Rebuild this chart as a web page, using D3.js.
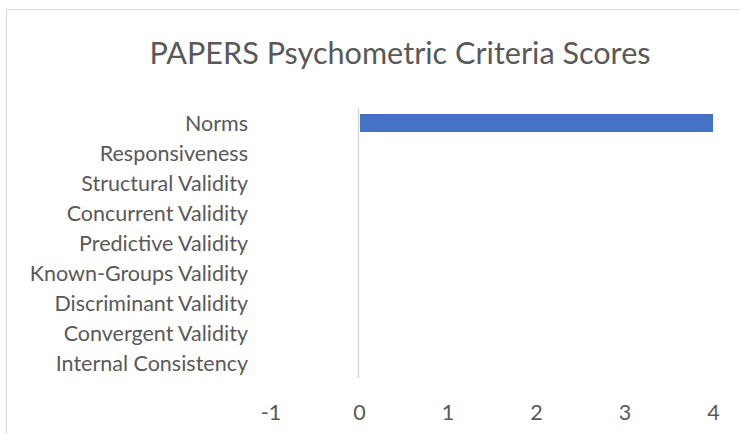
<!DOCTYPE html>
<html>
<head>
<meta charset="utf-8">
<script src="https://cdn.jsdelivr.net/npm/d3@7"></script>
<style>
  html, body { margin: 0; padding: 0; background: #fff; }
  svg { display: block; font-family: Lato, "Open Sans", sans-serif; }
</style>
</head>
<body>
<div id="chart"></div>
<script>
// data, top row first
const categories = [
  "Norms",
  "Responsiveness",
  "Structural Validity",
  "Concurrent Validity",
  "Predictive Validity",
  "Known-Groups Validity",
  "Discriminant Validity",
  "Convergent Validity",
  "Internal Consistency"
];
const scores = [4, 0, 0, 0, 0, 0, 0, 0, 0];
const xTicks = [-1, 0, 1, 2, 3, 4];
const title = "PAPERS Psychometric Criteria Scores";

const width = 740, height = 434;
const textColor = "#595959";
const labelSize = "21.5px";

const svg = d3.select("#chart")
  .append("svg")
  .attr("width", width)
  .attr("height", height);

// chart frame (runs off right/bottom edge like the screenshot)
svg.append("rect")
  .attr("x", 6.5)
  .attr("y", 9.5)
  .attr("width", 800)
  .attr("height", 500)
  .attr("fill", "#fff")
  .attr("stroke", "#d9d9d9");

svg.append("text")
  .attr("x", 400)
  .attr("y", 64)
  .attr("text-anchor", "middle")
  .attr("fill", textColor)
  .style("font-size", "30.6px")
  .text(title);

const x = d3.scaleLinear()
  .domain([-1, 4])
  .range([270.5, 713]);

const y = d3.scaleBand()
  .domain(categories)
  .range([108, 378])
  .paddingInner(0.4)
  .paddingOuter(0.2);

// zero line
svg.append("line")
  .attr("x1", Math.round(x(0)) - 0.5)
  .attr("x2", Math.round(x(0)) - 0.5)
  .attr("y1", 108)
  .attr("y2", 378)
  .attr("stroke", "#d9d9d9")
  .attr("stroke-width", 1.5);

svg.append("g")
  .selectAll("rect")
  .data(categories.map((c, i) => ({ cat: c, v: scores[i] })))
  .enter()
  .append("rect")
  .attr("x", d => x(Math.min(0, d.v)) + 1)
  .attr("y", d => y(d.cat))
  .attr("width", d => Math.max(0, Math.abs(x(d.v) - x(0)) - 1))
  .attr("height", y.bandwidth())
  .attr("fill", "#4472c4");

// category labels
const yAxis = svg.append("g")
  .attr("transform", "translate(248,1)")
  .call(d3.axisLeft(y).tickSize(0).tickPadding(0));
yAxis.select(".domain").remove();
yAxis.selectAll("text")
  .attr("fill", textColor)
  .style("font-size", labelSize)
  .style("font-family", "Lato, 'Open Sans', sans-serif");

// value labels (plain hyphen for negatives, like Excel)
const xAxis = svg.append("g")
  .attr("transform", "translate(0,401)")
  .call(d3.axisBottom(x).tickValues(xTicks).tickFormat(d => String(d)).tickSize(0).tickPadding(4));
xAxis.select(".domain").remove();
xAxis.selectAll("text")
  .attr("fill", textColor)
  .style("font-size", labelSize)
  .style("font-family", "Lato, 'Open Sans', sans-serif");
</script>
</body>
</html>
